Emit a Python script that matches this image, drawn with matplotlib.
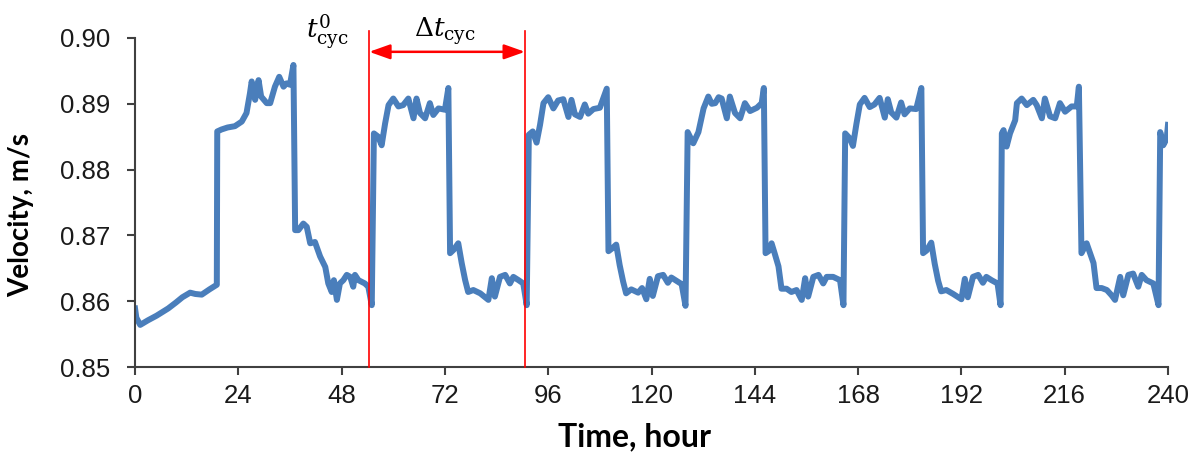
import numpy as np
import matplotlib
matplotlib.use('Agg')
import matplotlib.pyplot as plt

# start-up period: slow ramp, first high step, decay
t_start = [0.0, 0.3, 1.2, 3.0, 5.0, 7.7, 9.5, 11.0, 12.8, 14.0, 15.5, 17.3, 19.0,
           19.1, 20.1, 21.5, 23.2, 24.8, 25.9, 26.7, 27.1, 27.9, 28.7, 29.3, 30.6,
           31.4, 32.5, 33.5, 34.5, 35.2, 36.0, 36.8,
           37.2, 37.95, 39.1, 39.9, 40.7, 41.8, 43.0, 44.2, 44.9, 45.7, 46.2, 46.9,
           47.6, 48.4, 49.2, 50.0, 50.7, 51.1, 51.9, 53.4, 54.2, 55.0]
v_start = [0.8589, 0.8575, 0.8564, 0.8571, 0.8578, 0.8589, 0.8598, 0.8606, 0.8613, 0.8611, 0.8610, 0.8618, 0.8625,
           0.8858, 0.8861, 0.8864, 0.8866, 0.8873, 0.8886, 0.8916, 0.8934, 0.8906, 0.8936, 0.8911, 0.8901,
           0.8901, 0.8926, 0.8941, 0.8926, 0.8931, 0.8929, 0.8959,
           0.8708, 0.8708, 0.8718, 0.8713, 0.8688, 0.8690, 0.8668, 0.8652, 0.8627, 0.8614, 0.8632, 0.8602,
           0.8627, 0.8632, 0.8640, 0.8637, 0.8622, 0.8640, 0.8632, 0.8627, 0.8622, 0.8594]

t_cyc1 = [55.5, 56.5, 57.3, 58.1, 58.9, 60.0, 61.2, 62.3, 63.5, 64.7, 65.4, 66.2, 67.4, 68.5,
          69.3, 70.5, 72.0, 72.8, 73.2,
          74.0, 75.1, 75.9, 76.7, 77.4, 78.6, 80.2, 82.1, 82.9, 83.6, 84.8, 86.0, 87.1,
          87.9, 89.1, 90.2, 91.0]
v_cyc1 = [0.8855, 0.8850, 0.8837, 0.8870, 0.8898, 0.8908, 0.8896, 0.8898, 0.8908, 0.8878, 0.8908, 0.8886, 0.8878, 0.8901,
          0.8883, 0.8893, 0.8891, 0.8924, 0.8673,
          0.8678, 0.8688, 0.8658, 0.8632, 0.8614, 0.8617, 0.8612, 0.8602, 0.8635, 0.8607, 0.8637, 0.8640, 0.8627,
          0.8637, 0.8632, 0.8627, 0.8594]

t_cyc2 = [91.5, 92.4, 93.3, 94.1, 94.9, 96.0, 97.2, 98.3, 99.5, 100.7, 101.4, 102.2, 103.4, 104.5,
          105.3, 106.5, 108.0, 109.6, 110.0,
          110.8, 111.8, 112.6, 113.4, 114.1, 115.3, 116.9, 117.8, 118.8, 119.6, 120.3, 121.5, 122.7,
          123.8, 124.6, 125.8, 127.0, 127.9]
v_cyc2 = [0.8853, 0.8858, 0.8841, 0.8868, 0.8901, 0.8910, 0.8893, 0.8905, 0.8907, 0.8880, 0.8906, 0.8884, 0.8880, 0.8899,
          0.8885, 0.8892, 0.8894, 0.8923, 0.8676,
          0.8680, 0.8686, 0.8655, 0.8630, 0.8612, 0.8618, 0.8613, 0.8620, 0.8603, 0.8634, 0.8608, 0.8638, 0.8640,
          0.8628, 0.8636, 0.8631, 0.8626, 0.8593]

t_cyc3 = [128.4, 129.7, 130.9, 132.1, 133.2, 134.0, 134.8, 135.6, 136.3, 137.5, 138.2, 139.4, 140.6,
          141.7, 142.9, 144.5, 145.6, 146.1, 146.5,
          147.2, 147.9, 148.6, 149.5, 150.2, 151.4, 152.5, 153.7, 154.9, 155.7, 156.4, 157.6, 158.8,
          159.9, 160.7, 162.2, 163.8, 164.6]
v_cyc3 = [0.8857, 0.8840, 0.8857, 0.8893, 0.8911, 0.8900, 0.8901, 0.8910, 0.8908, 0.8878, 0.8911, 0.8886, 0.8878,
          0.8901, 0.8889, 0.8894, 0.8901, 0.8924, 0.8673,
          0.8676, 0.8688, 0.8673, 0.8653, 0.8619, 0.8619, 0.8614, 0.8617, 0.8602, 0.8635, 0.8607, 0.8637, 0.8640,
          0.8627, 0.8637, 0.8637, 0.8632, 0.8594]

t_cyc4 = [165.0, 166.0, 166.8, 167.6, 168.4, 169.5, 170.7, 171.8, 173.0, 174.2, 174.9, 175.7, 176.9,
          178.0, 178.8, 180.0, 181.5, 182.7, 183.1,
          183.9, 185.0, 185.8, 186.6, 187.3, 188.5, 190.1, 192.0, 192.8, 193.5, 194.7, 195.9, 197.0,
          197.8, 199.0, 200.4, 201.1]
v_cyc4 = [0.8855, 0.8848, 0.8836, 0.8869, 0.8899, 0.8909, 0.8895, 0.8899, 0.8909, 0.8879, 0.8907, 0.8887, 0.8879,
          0.8902, 0.8884, 0.8893, 0.8892, 0.8924, 0.8673,
          0.8677, 0.8689, 0.8657, 0.8631, 0.8615, 0.8617, 0.8611, 0.8603, 0.8634, 0.8606, 0.8637, 0.8640, 0.8628,
          0.8637, 0.8632, 0.8627, 0.8594]

t_cyc5 = [201.4, 201.8, 202.5, 203.3, 204.5, 204.9, 206.0, 207.2, 208.7, 209.5, 210.7, 211.4, 212.6,
          213.8, 214.9, 216.1, 217.6, 218.8, 219.3, 219.9,
          221.1, 221.9, 222.7, 223.4, 224.6, 225.8, 226.9, 227.7, 228.9, 229.6, 230.8, 231.9, 233.1,
          233.9, 235.0, 236.6, 237.8]
v_cyc5 = [0.8855, 0.8860, 0.8835, 0.8855, 0.8875, 0.8901, 0.8908, 0.8898, 0.8906, 0.8898, 0.8878, 0.8908, 0.8881,
          0.8878, 0.8901, 0.8888, 0.8896, 0.8896, 0.8926, 0.8673,
          0.8688, 0.8673, 0.8658, 0.8620, 0.8620, 0.8617, 0.8609, 0.8602, 0.8637, 0.8609, 0.8640, 0.8642, 0.8622,
          0.8640, 0.8632, 0.8627, 0.8594]

t_cyc6 = [238.2, 238.9, 239.7, 240.0]
v_cyc6 = [0.8857, 0.8837, 0.8847, 0.8868]

x_ticks = [0, 24, 48, 72, 96, 120, 144, 168, 192, 216, 240]
y_ticks = [0.85, 0.86, 0.87, 0.88, 0.89, 0.90]

t0_cyc = 54.4   # first red marker
t1_cyc = 90.6   # second red marker

time_h = np.concatenate([t_start, t_cyc1, t_cyc2, t_cyc3, t_cyc4, t_cyc5, t_cyc6])
velocity = np.concatenate([v_start, v_cyc1, v_cyc2, v_cyc3, v_cyc4, v_cyc5, v_cyc6])

plt.rcParams['mathtext.fontset'] = 'dejavuserif'

fig = plt.figure(figsize=(11.94, 4.54), dpi=100)
ax = fig.add_axes([0.1131, 0.1916, 0.8651, 0.7247])

ax.plot(time_h, velocity, color='#4a7ebb', lw=4.3, solid_joinstyle='round')

ax.set_xlim(0, 240)
ax.set_ylim(0.85, 0.90)
ax.set_xticks(x_ticks)
ax.set_yticks(y_ticks)
ax.set_yticklabels([f'{v:.2f}' for v in y_ticks])

for side in ('top', 'right'):
    ax.spines[side].set_visible(False)
for side in ('left', 'bottom'):
    ax.spines[side].set_color('#404040')
    ax.spines[side].set_linewidth(1.5)
ax.tick_params(direction='out', length=6, width=1.5, color='#404040',
               labelsize=18.5, labelcolor='#1a1a1a')
ax.tick_params(axis='x', pad=6)
ax.tick_params(axis='y', pad=12)
for lab in ax.get_xticklabels() + ax.get_yticklabels():
    lab.set_family('Liberation Sans')

ax.set_xlabel('Time, hour', fontsize=23, fontweight='bold', family='Lato')
ax.set_ylabel('Velocity, m/s', fontsize=20, fontweight='bold', family='Lato')
ax.xaxis.set_label_coords(0.484, -0.168)
ax.yaxis.set_label_coords(-0.098, 0.462)

# cycle markers
y_top = 0.9011
for tc in (t0_cyc, t1_cyc):
    ax.plot([tc, tc], [0.85, y_top], color='red', lw=1.2, clip_on=False, zorder=3)
ax.annotate('', xy=(t1_cyc, 0.8979), xytext=(t0_cyc, 0.8979),
            arrowprops=dict(arrowstyle='<|-|>,head_length=0.45,head_width=0.16', color='red', lw=1.8,
                            mutation_scale=28, shrinkA=0, shrinkB=0))
ax.text(44.6, 0.9009, r'$t^{0}_{\rm cyc}$', fontsize=19, ha='center', va='center', clip_on=False)
ax.text(72.0, 0.9011, r'$\Delta t_{\rm cyc}$', fontsize=19, ha='center', va='center', clip_on=False)

fig.savefig('out.png', dpi=100)
